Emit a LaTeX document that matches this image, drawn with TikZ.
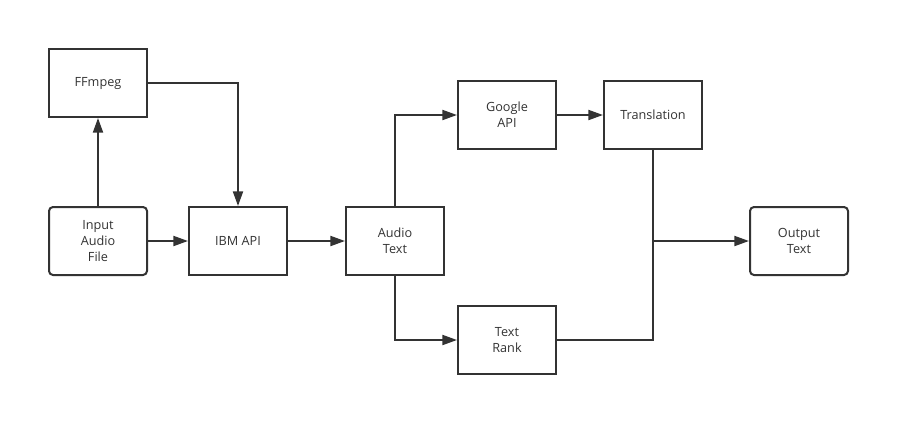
\documentclass[tikz,border=0pt]{standalone}
\usepackage{fontspec}
\setmainfont{Open Sans}
\usetikzlibrary{arrows.meta}
\definecolor{ink}{HTML}{333333}
\begin{document}
\begin{tikzpicture}[x=0.75pt,y=-0.75pt,
  box/.style={draw=ink,line width=1.5pt,minimum width=73.5pt,minimum height=51pt,inner sep=0pt,align=center,text=ink,font=\fontsize{9.5}{12}\selectfont},
  rbox/.style={box,rounded corners=3pt},
  conn/.style={draw=ink,line width=1.5pt},
  arr/.style={conn,-{Triangle[length=11pt,width=7.5pt]}}]
\useasboundingbox[fill=white] (0,0) rectangle (911,437);
\node[box]  (ff)    at (98,83)   {FFmpeg};
\node[rbox] (inp)   at (98,241)  {Input\\Audio\\File};
\node[box]  (ibm)   at (238,241) {IBM API};
\node[box]  (aud)   at (395,241) {Audio\\Text};
\node[box]  (goo)   at (507,115) {Google\\API};
\node[box]  (trans) at (653,115) {Translation};
\node[box]  (tr)    at (507,340) {Text\\Rank};
\node[rbox] (out)   at (799,241) {Output\\Text};
\draw[arr] (inp) -- (ff);
\draw[arr] (ff.east) -| (ibm.north);
\draw[arr] (inp) -- (ibm);
\draw[arr] (ibm) -- (aud);
\draw[arr] (aud.north) |- (goo.west);
\draw[arr] (aud.south) |- (tr.west);
\draw[arr] (goo) -- (trans);
\draw[conn] (trans.south) |- (tr.east);
\coordinate (j) at (trans.south |- out.west);
\draw[arr] (j) -- (out.west);
\end{tikzpicture}
\end{document}
